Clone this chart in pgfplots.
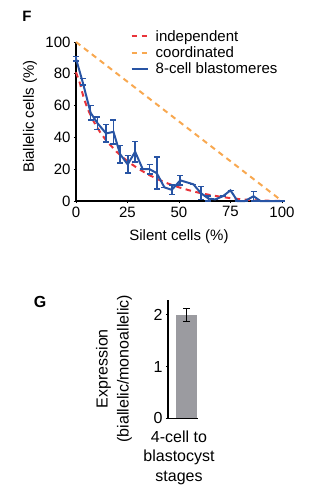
\documentclass[border=0pt]{standalone}
\usepackage{pgfplots}
\pgfplotsset{compat=1.18}
\usepackage{fontspec}
\setmainfont{Liberation Sans}
\definecolor{indep}{RGB}{232,52,58}
\definecolor{coord}{RGB}{248,168,80}
\definecolor{blast}{RGB}{40,84,164}
\definecolor{bargray}{RGB}{155,155,160}
\newcommand{\fs}{\fontsize{15}{18}\selectfont}
\newcommand{\fg}{\fontsize{16}{19.5}\selectfont}
\begin{document}
\begin{tikzpicture}
\path[use as bounding box] (0,0) rectangle (322pt,-501pt);
\node[font=\bfseries\fs] at (27pt,-16pt) {F};
\node[font=\bfseries\fg] at (40pt,-302pt) {G};
\begin{axis}[
  at={(76pt,-201pt)}, anchor=south west, scale only axis,
  width=206pt, height=159pt,
  xmin=0, xmax=100, ymin=0, ymax=100,
  axis x line=bottom, axis y line=left,
  axis line style={-, line width=1.6pt, black},
  xtick={0,25,50,75,100}, ytick={0,20,40,60,80,100},
  tick align=outside, major tick length=2pt,
  tick style={black, line width=0.8pt},
  /pgf/number format/assume math mode=true,
  tick label style={font=\fs},
  xlabel={Silent cells (\%)}, ylabel={Biallelic cells (\%)},
  label style={font=\fs},
  xlabel style={at={(axis description cs:0.5,-0.226)}, anchor=center},
  ylabel style={at={(axis description cs:-0.223,0.53)}, anchor=center},
  clip=false,
  legend cell align=left,
  legend style={at={(axis description cs:0.25,1.1)}, anchor=north west,
    draw=none, fill=none, font=\fs, row sep=0pt,
    /tikz/every odd column/.append style={column sep=5pt}},
  legend image code/.code={\draw[#1] (0pt,0pt) -- (16pt,0pt);},
]
\addplot[indep, line width=2pt, dash pattern=on 5.5pt off 4.5pt] table {
x y
0 81.0
2 73.7
3 68.4
4 64.0
5 60.3
6 57.0
8 51.4
10 46.8
12 42.7
15 37.5
20 30.6
25 25.0
30 20.5
35 16.7
40 13.5
45 10.8
50 8.6
55 6.7
60 5.1
65 3.8
70 2.7
75 1.8
80 1.1
85 0.6
90 0.3
95 0.1
100 0
};
\addlegendentry{independent}
\addplot[coord, line width=2pt, dash pattern=on 5.5pt off 4.5pt] table {
x y
0 100
100 0
};
\addlegendentry{coordinated}
\addplot[blast, line width=2pt, mark=none,
  error bars/.cd, y dir=both, y explicit,
  error bar style={line width=1.6pt, solid},
  error mark options={rotate=90, mark size=3pt, line width=1.6pt}]
  table[x=x, y=y, y error=e] {
x y e
0 89.5 1.5
3.2 75 2
7.1 55.5 4.5
10.4 49 4
14.6 42.5 5.5
18.2 43.5 7.5
21.4 29.5 5.5
25.1 23 5.5
28.7 31 6.5
32.4 20 0
35.7 20 3
39.2 17.5 10
42.9 8.6 0
46.5 7 3
50.6 13 3
57 10.5 0
60.6 5 4
64.3 1.5 1.5
67.6 1 0
71.3 3 0
75 6.7 0
78.4 0 0
82 0 0
86.2 3 3
89.5 0 0
100 0 0
};
\addlegendentry{8-cell blastomeres}
\end{axis}
\begin{axis}[
  at={(168pt,-418.3pt)}, anchor=south west, scale only axis,
  width=30pt, height=118pt,
  xmin=0, xmax=30, ymin=0, ymax=2.28,
  axis x line=bottom, axis y line=left,
  axis line style={-, line width=1.6pt, black},
  xtick={11}, xticklabels={{4-cell to\\blastocyst\\stages}},
  xticklabel style={align=center, font=\fg, yshift=-7pt},
  ytick={0,1,2},
  tick align=outside, major tick length=2pt,
  tick style={black, line width=0.8pt},
  x tick style={draw=none},
  /pgf/number format/assume math mode=true,
  yticklabel style={font=\fg},
  ylabel={Expression\\(biallelic/monoallelic)},
  ylabel style={align=center, font=\fontsize{16}{21}\selectfont, at={(axis description cs:-1.8,0.42)}, anchor=center},
  clip=false,
]
\addplot[ybar, bar width=21pt, fill=bargray, draw=none,
  error bars/.cd, y dir=both, y explicit,
  error bar style={line width=1pt, black},
  error mark options={rotate=90, mark size=3.5pt, line width=1pt, black}]
  table[x=x, y=y, y error=e] {
x y e
18.5 2.0 0.12
};
\end{axis}
\end{tikzpicture}
\end{document}
